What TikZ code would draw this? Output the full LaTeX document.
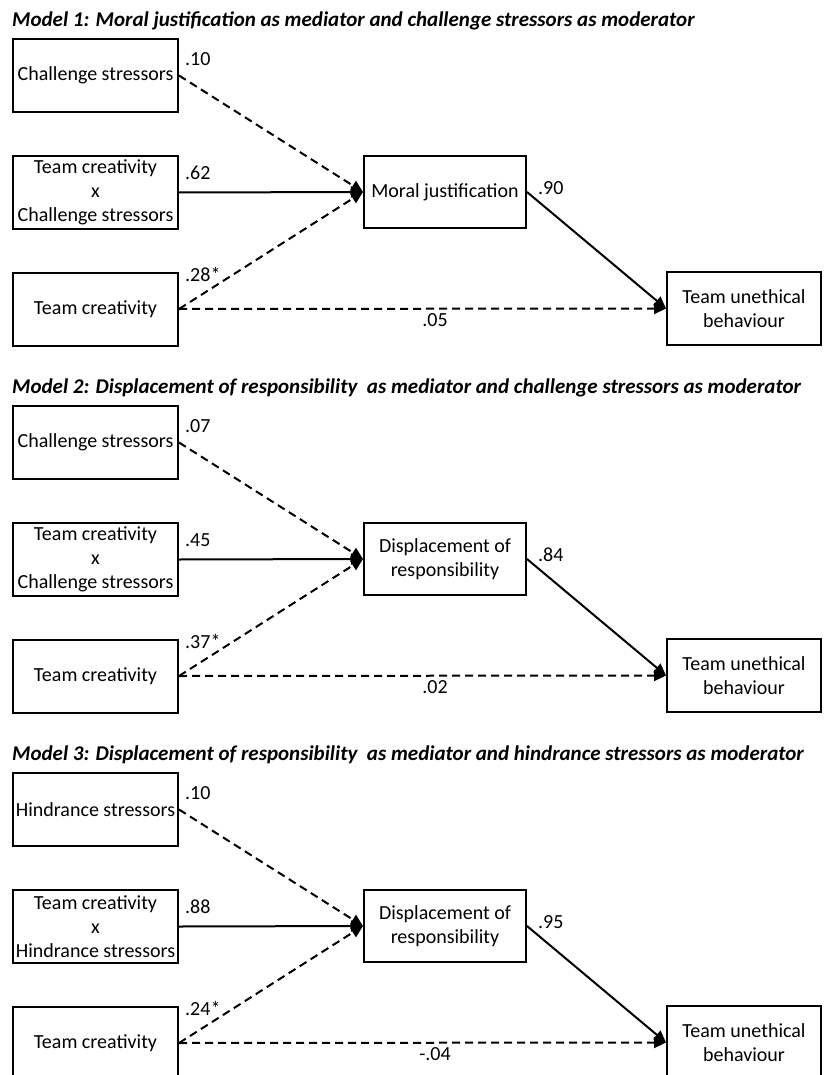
\documentclass[tikz,border=0pt]{standalone}
\usepackage{fontspec}
\setmainfont{Carlito}
\usetikzlibrary{arrows.meta}

\tikzset{
  box/.style={draw, line width=2pt, inner sep=0pt, align=center,
    font=\fontsize{20}{24}\selectfont},
  leftbox/.style={box, minimum width=165pt, minimum height=73pt},
  medbox/.style={box, minimum width=162pt, minimum height=72pt},
  outbox/.style={box, minimum width=154pt, minimum height=73pt},
  link/.style={line width=2pt, -{Triangle[length=12pt,width=11pt]}},
  dlink/.style={link, dash pattern=on 8pt off 5pt},
  coef/.style={font=\fontsize{20}{24}\selectfont, inner sep=0pt},
  heading/.style={font=\fontsize{21}{24}\selectfont\bfseries\itshape,
    anchor=west, inner sep=0pt}
}

% One moderated-mediation panel:
% #1 name prefix, #2 vertical offset, #3 heading, #4 moderator, #5 mediator
\newcommand{\modelpanel}[5]{%
  \begin{scope}[yshift=#2]
    \node[heading] (#1title) at (12,-21) {#3};
    \node[leftbox] (#1mod) at (95.5,-75.5) {#4};
    \node[leftbox] (#1int) at (95.5,-192.5) {Team creativity\\x\\#4};
    \node[leftbox] (#1tc)  at (95.5,-309) {Team creativity};
    \node[medbox]  (#1med) at (445,-192) {#5};
    \node[outbox]  (#1out) at (744,-308.5) {Team unethical\\behaviour};
    \draw[dlink] (#1mod.east) -- (#1med.west);
    \draw[link]  (#1int.east) -- (#1med.west);
    \draw[dlink] (#1tc.east)  -- (#1med.west);
    \draw[dlink] (#1tc.east)  -- (#1out.west);
    \draw[link]  (#1med.east) -- (#1out.west);
  \end{scope}}

% Path coefficients: #1 vertical offset, then moderator, interaction,
% team creativity -> mediator, direct effect, mediator -> outcome
\newcommand{\coefs}[6]{%
  \begin{scope}[yshift=#1]
    \node[coef, anchor=west] (c#1a) at (185,-59)  {#2};
    \node[coef, anchor=west] (c#1b) at (185,-173) {#3};
    \node[coef, anchor=west] (c#1c) at (185,-274) {#4};
    \node[coef]              (c#1d) at (435,-320) {#5};
    \node[coef, anchor=west] (c#1e) at (538,-188) {#6};
  \end{scope}}

\begin{document}
\begin{tikzpicture}[x=1pt,y=1pt]
  \useasboundingbox (0,0) rectangle (823,-1075);

  \modelpanel{a}{0pt}
    {Model 1: Moral justification as mediator and challenge stressors as moderator}
    {Challenge stressors}{Moral justification}
  \coefs{0pt}{.10}{.62}{.28*}{.05}{.90}

  \modelpanel{b}{-367pt}
    {Model 2: Displacement of responsibility\ \ as mediator and challenge stressors as moderator}
    {Challenge stressors}{Displacement of\\responsibility}
  \coefs{-367pt}{.07}{.45}{.37*}{.02}{.84}

  \modelpanel{c}{-734pt}
    {Model 3: Displacement of responsibility\ \ as mediator and hindrance stressors as moderator}
    {Hindrance stressors}{Displacement of\\responsibility}
  \coefs{-734pt}{.10}{.88}{.24*}{-.04}{.95}
\end{tikzpicture}
\end{document}
